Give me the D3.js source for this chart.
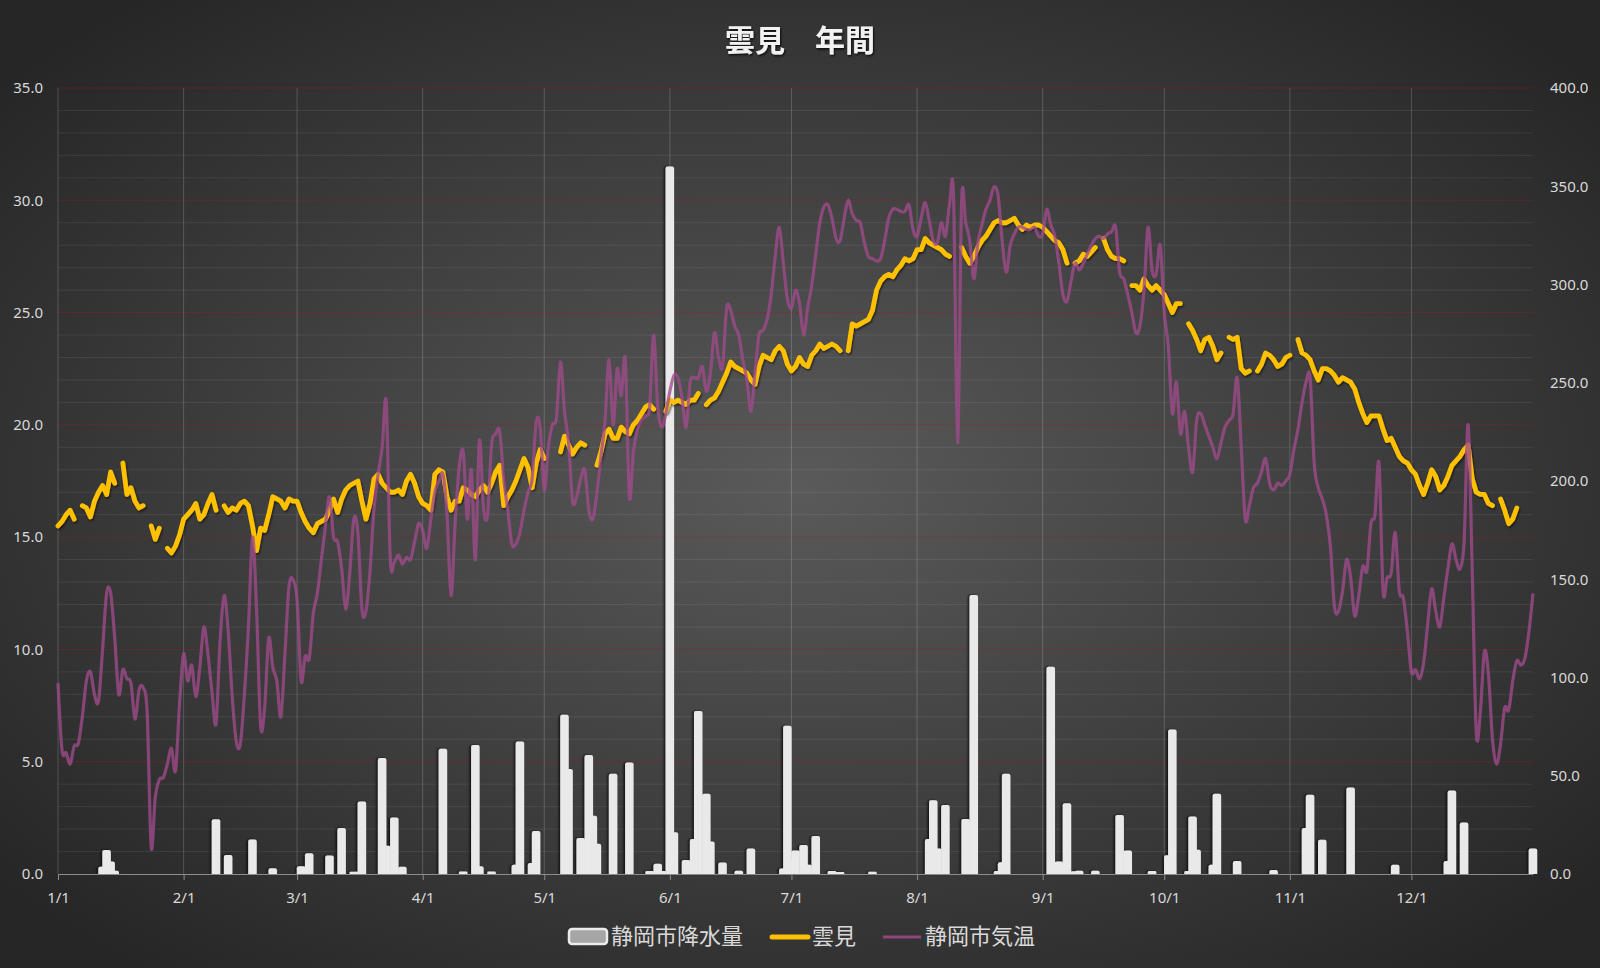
<!DOCTYPE html>
<meta charset="utf-8">
<style>
    body { margin: 0; background: #2a2a2a; }
    svg { display: block; }
    text { font-family: "Noto Sans CJK JP", "Noto Sans", sans-serif; fill: #d9d9d9; }
    .axis .domain { stroke: #8c8c8c; }
    .axis .tick line { stroke: #8c8c8c; }
    .title { font-size: 30px; font-weight: bold; fill: #f2f2f2; }
    .legend text { font-size: 22px; fill: #d9d9d9; }
</style>
<body>
<svg width="1600" height="968"></svg>

<script src="https://d3js.org/d3.v7.min.js"></script>
<script>

    var year = 2019;
    var monthTicks = ["1/1", "2/1", "3/1", "4/1", "5/1", "6/1", "7/1", "8/1", "9/1", "10/1", "11/1", "12/1"];
    var leftTicks = [0, 5, 10, 15, 20, 25, 30, 35];
    var rightTicks = [0, 50, 100, 150, 200, 250, 300, 350, 400];

    // 静岡市気温 (daily, 1/1 - 12/31)
    var shizuokaTemp = [
        8.5,5.5,5.4,4.9,5.7,5.8,7.0,8.6,9.0,8.0,7.7,10.0,12.5,12.5,10.5,8.0,9.1,8.7,8.5,6.9,8.2,8.3,7.2,1.2,3.4,4.2,4.3,4.9,5.6,4.6,7.6,
        9.8,8.6,9.3,7.9,9.2,11.0,9.8,8.1,6.7,10.4,12.4,10.8,7.9,5.9,5.8,8.0,11.0,15.0,11.8,6.6,7.4,10.5,9.2,8.6,7.0,9.8,12.8,13.1,
        12.2,8.6,9.7,9.6,11.6,12.5,14.0,15.5,16.8,15.0,14.8,13.6,11.8,13.4,15.8,15.2,11.8,11.7,13.5,16.3,17.8,19.0,21.0,14.0,13.9,14.2,13.8,14.1,14.0,14.8,15.6,
        15.3,14.5,15.8,17.0,17.5,17.8,16.0,12.4,15.6,18.1,18.8,15.8,18.0,14.0,19.3,16.3,16.0,19.1,19.6,19.7,17.6,16.2,14.7,14.7,15.2,16.2,17.0,17.6,20.1,19.9,
        17.1,19.0,20.0,20.3,22.8,20.6,19.2,16.6,16.8,17.6,18.0,16.2,15.8,17.0,18.6,20.2,22.9,20.0,22.5,21.3,22.9,16.8,18.8,19.8,20.2,20.4,20.8,24.0,20.8,19.9,20.5,
        21.5,22.2,22.1,21.2,19.9,21.9,22.1,22.1,22.6,21.5,22.3,24.1,23.0,22.6,25.2,25.1,24.4,24.0,22.9,22.0,20.6,22.3,24.0,24.2,24.7,25.8,27.5,28.8,27.2,25.6,
        25.2,26.0,25.4,24.0,25.2,26.2,27.6,29.0,29.7,29.8,29.2,28.3,28.2,29.2,30.0,29.4,29.1,29.0,28.1,27.5,27.4,27.3,27.4,28.2,29.2,29.6,29.6,29.5,29.5,29.8,28.7,
        28.4,29.2,29.9,29.1,28.2,28.1,29.0,28.4,29.8,30.2,19.2,30.0,29.0,28.2,26.5,28.1,28.9,29.6,30.0,30.6,30.2,28.2,26.8,28.0,28.5,28.8,28.8,28.7,28.7,28.8,28.4,
        28.5,29.6,28.9,28.4,27.2,25.8,25.5,26.4,27.2,26.9,27.2,27.6,28.0,28.3,28.4,28.3,28.5,28.6,28.8,26.8,26.5,25.8,25.0,24.1,24.4,26.0,28.8,26.9,26.7,28.0,
        25.0,23.5,20.5,21.9,19.6,20.6,19.0,17.9,20.2,20.5,20.0,19.5,19.0,18.5,19.2,19.9,20.2,20.5,22.1,19.0,15.8,16.4,17.2,17.4,17.9,18.5,17.4,17.1,17.4,17.3,17.5,
        17.8,18.9,19.8,21.0,21.9,22.1,18.3,17.2,16.7,16.0,14.6,11.9,11.7,12.6,14.0,13.2,11.5,12.4,13.7,13.5,15.6,16.0,18.3,12.6,13.2,13.4,15.2,12.6,12.3,10.8,
        9.0,9.1,8.7,9.4,11.1,12.7,11.7,11.0,12.3,13.6,14.7,14.0,13.6,14.8,20.0,13.5,6.3,7.2,9.9,8.9,6.0,4.9,5.8,7.4,7.3,8.6,9.5,9.3,9.6,10.8,12.5
    ];

    // 雲見 (daily, null = no record)
    var kumomiTemp = [
        15.5,15.7,16.0,16.2,15.8,null,16.4,16.3,15.9,16.6,17.0,17.3,16.9,17.9,17.4,null,18.3,16.9,17.2,16.6,16.3,16.4,null,15.5,14.9,15.4,null,14.5,14.3,14.6,15.1,
        15.8,16.0,16.2,16.5,15.8,16.0,16.5,16.9,16.2,null,16.4,16.1,16.3,16.2,16.5,16.6,16.4,15.5,14.4,15.4,15.3,16.0,16.8,16.7,16.6,16.3,16.7,16.6,
        16.6,16.1,15.7,15.4,15.2,15.6,15.7,15.8,16.2,16.7,16.1,16.7,17.1,17.3,17.4,17.5,16.6,15.8,16.5,17.6,17.8,17.4,17.2,17.0,17.0,17.1,16.9,17.5,17.8,17.4,16.8,
        16.5,16.4,16.2,17.8,18.0,17.9,16.8,16.2,16.6,16.6,17.2,17.1,16.9,16.8,17.1,17.3,17.0,17.4,17.9,18.2,16.4,16.8,17.1,17.5,18.0,18.5,18.1,17.2,18.3,18.9,
        18.5,null,null,null,18.8,19.5,19.1,18.7,19.0,19.2,19.1,null,null,18.2,18.8,19.6,19.8,19.4,19.4,19.9,19.7,19.6,20.0,20.2,20.5,20.8,20.9,20.7,null,null,20.6,
        21.1,21.0,21.1,21.0,20.9,21.1,21.1,21.4,null,20.9,21.1,21.2,21.5,21.9,22.3,22.8,22.6,22.5,22.4,22.3,22.0,21.8,22.6,23.1,23.0,22.9,23.3,23.5,23.3,22.7,
        22.4,22.6,23.0,22.7,22.6,23.1,23.3,23.6,23.4,23.5,23.6,23.5,23.3,null,23.3,24.5,24.4,24.5,24.6,24.7,25.1,26.0,26.4,26.6,26.7,26.6,26.9,27.1,27.4,27.3,27.4,
        27.8,27.8,28.3,28.1,28.0,27.9,27.8,27.6,27.5,null,null,27.9,27.5,27.2,27.5,27.9,28.2,28.4,28.7,29.0,29.1,29.0,29.0,29.1,29.2,28.9,28.7,28.9,28.8,28.9,28.9,
        28.8,28.6,28.4,28.2,28.1,27.8,27.2,null,27.2,27.3,27.6,27.5,27.7,27.9,null,28.3,27.8,27.5,27.4,27.4,27.3,null,26.2,26.2,26.0,26.5,26.2,26.0,26.2,26.0,
        25.8,25.4,25.0,25.4,25.4,null,24.5,24.2,23.8,23.3,23.8,23.9,23.5,22.9,23.2,null,23.9,23.8,23.9,22.5,22.3,22.4,null,22.4,22.7,23.2,23.1,22.9,22.6,22.7,23.0,
        23.1,null,23.8,23.2,23.1,22.9,22.4,22.0,22.5,22.5,22.4,22.2,21.9,22.1,22.0,21.9,21.6,21.0,20.5,20.1,20.4,20.4,20.4,19.8,19.3,19.4,19.0,18.6,18.4,18.3,
        18.0,17.8,17.3,16.9,17.4,18.0,17.7,17.1,17.3,17.7,18.2,18.4,18.6,18.9,19.1,17.6,17.0,16.9,16.9,16.5,16.4,null,16.7,16.2,15.6,15.8,16.3,null,null,null,null
    ];

    // 静岡市降水量 (mm), days with rain only
    var rainDates = ["1/12","1/13","1/14","1/15","2/9","2/12","2/18","2/23",
        "3/2","3/4","3/9","3/12","3/15","3/17","3/22","3/23","3/25","3/27",
        "4/6","4/11","4/14","4/15","4/18","4/24","4/25","4/28","4/29",
        "5/6","5/7","5/10","5/12","5/13","5/14","5/18","5/22","5/27","5/29","5/30",
        "6/1","6/2","6/5","6/7","6/8","6/10","6/11","6/14","6/18","6/21","6/29","6/30",
        "7/1","7/2","7/4","7/5","7/7","7/11","7/13","7/21",
        "8/4","8/5","8/6","8/8","8/13","8/15","8/21","8/22","8/23",
        "9/3","9/5","9/7","9/9","9/10","9/14","9/20","9/22","9/28",
        "10/2","10/3","10/7","10/8","10/9","10/13","10/14","10/19","10/28",
        "11/5","11/6","11/9","11/16","11/27","12/10","12/11","12/14","12/31"];
    var rainMm = [3.7,12.2,6.3,1.7,27.8,9.7,17.6,2.9,
        4.0,10.5,9.4,23.4,1.2,36.9,59.0,14.4,28.7,3.7,
        63.7,1.3,65.6,4.0,1.3,4.7,67.4,5.6,21.9,
        81.0,53.4,18.3,60.5,29.6,15.4,51.0,56.7,1.5,5.2,1.5,
        360.0,21.3,7.1,17.8,83.0,40.8,16.6,5.9,1.6,13.0,2.8,75.4,
        7.1,11.9,14.7,4.7,19.4,1.5,1.0,1.2,
        17.8,37.5,13.0,35.1,28.0,142.0,1.5,6.0,51.0,
        105.5,6.4,36.0,1.4,1.6,1.7,30.0,11.9,1.5,
        9.5,73.5,1.5,29.2,12.3,4.7,40.8,6.6,2.0,
        23.4,40.3,17.4,44.0,4.7,6.6,42.5,26.2,13.0];

    var svg = d3.select("svg"),
        width = +svg.attr("width"),
        height = +svg.attr("height");

    // plot area (window.top is read-only, so no bare "top")
    var plotL = 58, plotR = 1533, plotT = 88, plotB = 874;

    function md(s) {
        var p = s.split("/");
        return new Date(year, +p[0] - 1, +p[1]);
    }
    var days = d3.timeDays(new Date(year, 0, 1), new Date(year + 1, 0, 1));

    var x = d3.scaleTime().domain([new Date(year, 0, 1), new Date(year, 11, 31)]).range([plotL, plotR]);
    var yL = d3.scaleLinear().domain([0, 35]).range([plotB, plotT]);
    var yR = d3.scaleLinear().domain([0, 400]).range([plotB, plotT]);

    // background + filters
    var defs = svg.append("defs");
    var bg = defs.append("radialGradient").attr("id", "bg").attr("cx", "50%").attr("cy", "50%").attr("r", "65%");
    bg.append("stop").attr("offset", "0%").attr("stop-color", "#5a5a5a");
    bg.append("stop").attr("offset", "100%").attr("stop-color", "#262626");

    defs.append("filter").attr("id", "barShadow").attr("x", "-20%").attr("y", "-5%").attr("width", "140%").attr("height", "110%")
        .append("feDropShadow").attr("dx", -1.5).attr("dy", 0).attr("stdDeviation", 1)
        .attr("flood-color", "#000").attr("flood-opacity", 0.75);
    defs.append("filter").attr("id", "lineShadow")
        .append("feDropShadow").attr("dx", 1).attr("dy", 1.5).attr("stdDeviation", 1)
        .attr("flood-color", "#000").attr("flood-opacity", 0.6);
    defs.append("filter").attr("id", "textShadow")
        .append("feDropShadow").attr("dx", 1).attr("dy", 1.5).attr("stdDeviation", 1)
        .attr("flood-color", "#000").attr("flood-opacity", 0.8);

    svg.append("rect").attr("width", width).attr("height", height).attr("fill", "url(#bg)");

    // gridlines
    var grid = svg.append("g");
    grid.selectAll(".minor")
        .data(d3.range(1, 35).filter(function (v) { return v % 5 !== 0; }))
        .enter().append("line")
        .attr("x1", plotL).attr("x2", plotR)
        .attr("y1", function (d) { return yL(d); }).attr("y2", function (d) { return yL(d); })
        .attr("stroke", "rgba(255,255,255,0.08)");
    grid.selectAll(".major")
        .data(leftTicks.slice(1))
        .enter().append("line")
        .attr("x1", plotL).attr("x2", plotR)
        .attr("y1", function (d) { return yL(d); }).attr("y2", function (d) { return yL(d); })
        .attr("stroke", "rgba(160,30,30,0.36)");
    grid.selectAll(".vert")
        .data(monthTicks.map(md))
        .enter().append("line")
        .attr("x1", function (d) { return x(d); }).attr("x2", function (d) { return x(d); })
        .attr("y1", plotT).attr("y2", plotB)
        .attr("stroke", "rgba(255,255,255,0.18)");

    // rain bars (right axis)
    var barW = 8.5;
    function barPath(d) {
        var cx = x(md(d.date)), y0 = yR(0), y1 = yR(d.mm), w = barW / 2;
        var r = Math.min(2, (y0 - y1) / 2);
        return "M" + (cx - w) + "," + y0 + "V" + (y1 + r) +
            "Q" + (cx - w) + "," + y1 + " " + (cx - w + r) + "," + y1 +
            "H" + (cx + w - r) + "Q" + (cx + w) + "," + y1 + " " + (cx + w) + "," + (y1 + r) +
            "V" + y0 + "Z";
    }
    var rain = rainDates.map(function (d, i) { return { date: d, mm: rainMm[i] }; });
    svg.append("g").attr("filter", "url(#barShadow)")
        .selectAll("path").data(rain).enter().append("path")
        .attr("d", barPath)
        .attr("fill", "#e9e9e9");

    // 雲見 line
    var kumomi = days.map(function (d, i) { return { date: d, v: kumomiTemp[i] }; });
    var lineK = d3.line()
        .defined(function (d) { return d.v != null; })
        .x(function (d) { return x(d.date); })
        .y(function (d) { return yL(d.v); });
    svg.append("path").datum(kumomi)
        .attr("d", lineK)
        .attr("fill", "none")
        .attr("stroke", "#ffc000")
        .attr("stroke-width", 4.8)
        .attr("stroke-linejoin", "round")
        .attr("stroke-linecap", "round")
        .attr("filter", "url(#lineShadow)");

    // 静岡市気温 line (smoothed)
    var shizuoka = days.map(function (d, i) { return { date: d, v: shizuokaTemp[i] }; });
    var lineS = d3.line()
        .curve(d3.curveCatmullRom.alpha(0))
        .x(function (d) { return x(d.date); })
        .y(function (d) { return yL(d.v); });
    svg.append("path").datum(shizuoka)
        .attr("d", lineS)
        .attr("fill", "none")
        .attr("stroke", "#a04a8c")
        .attr("stroke-opacity", 0.78)
        .attr("stroke-width", 3.2)
        .attr("stroke-linejoin", "round");

    // axes
    function styleAxis(g) {
        g.selectAll("text")
            .style("font-family", "'Noto Sans', 'DejaVu Sans', sans-serif")
            .style("font-size", "15px")
            .style("fill", "#d9d9d9");
    }

    svg.append("g").attr("class", "axis")
        .attr("transform", "translate(0," + plotB + ")")
        .call(d3.axisBottom(x)
            .tickValues(monthTicks.map(md))
            .tickFormat(d3.timeFormat("%-m/%-d"))
            .tickSize(6).tickSizeOuter(0).tickPadding(12))
        .call(styleAxis);

    svg.append("g").attr("class", "axis")
        .attr("transform", "translate(" + plotL + ",0)")
        .call(d3.axisLeft(yL).tickValues(leftTicks).tickFormat(d3.format(".1f")).tickSize(0).tickPadding(15))
        .call(styleAxis)
        .select(".domain").remove();

    svg.append("g").attr("class", "axis")
        .attr("transform", "translate(" + plotR + ",0)")
        .call(d3.axisRight(yR).tickValues(rightTicks).tickFormat(d3.format(".1f")).tickSize(0).tickPadding(17))
        .call(styleAxis)
        .select(".domain").remove();

    // title
    svg.append("text").attr("class", "title")
        .attr("x", 800).attr("y", 51)
        .attr("text-anchor", "middle")
        .attr("filter", "url(#textShadow)")
        .text("雲見　年間");

    // legend
    var legend = svg.append("g").attr("class", "legend");
    legend.append("rect")
        .attr("x", 569).attr("y", 929).attr("width", 38).attr("height", 15).attr("rx", 3)
        .attr("fill", "#a6a6a6").attr("stroke", "#ececec").attr("stroke-width", 2.5);
    legend.append("text").attr("x", 611).attr("y", 944).text("静岡市降水量");
    legend.append("line")
        .attr("x1", 772).attr("x2", 808).attr("y1", 937).attr("y2", 937)
        .attr("stroke", "#ffc000").attr("stroke-width", 5).attr("stroke-linecap", "round");
    legend.append("text").attr("x", 812).attr("y", 944).text("雲見");
    legend.append("line")
        .attr("x1", 883).attr("x2", 921).attr("y1", 937).attr("y2", 937)
        .attr("stroke", "#a04a8c").attr("stroke-opacity", 0.85).attr("stroke-width", 3.2);
    legend.append("text").attr("x", 925).attr("y", 944).text("静岡市気温");

</script>
</body>
